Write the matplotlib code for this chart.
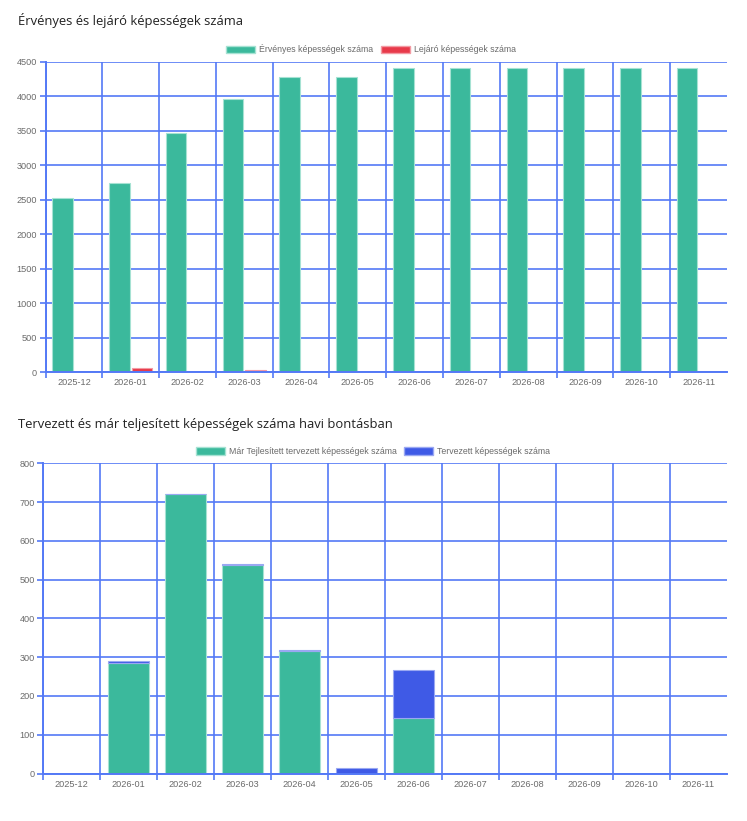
import matplotlib
matplotlib.use('Agg')
import matplotlib.pyplot as plt
from matplotlib.patches import Patch
import numpy as np

# Data
months = ['2025-12', '2026-01', '2026-02', '2026-03', '2026-04', '2026-05',
          '2026-06', '2026-07', '2026-08', '2026-09', '2026-10', '2026-11']
valid = [2530, 2745, 3460, 3960, 4275, 4280, 4415, 4415, 4415, 4405, 4405, 4405]
expiring = [0, 64, 0, 35, 0, 0, 0, 0, 0, 0, 0, 0]
done = [0, 286, 722, 537, 315, 0, 142, 0, 0, 0, 0, 0]
planned = [0, 5, 0, 4, 3, 13, 126, 0, 0, 0, 0, 0]

GREEN = '#3bb99c'
GREEN_EDGE = '#a6e2d3'
RED = '#e83a4a'
RED_EDGE = '#f39aa3'
BLUE = '#3f5ae6'
BLUE_EDGE = '#9aa8f2'
GRID = '#5479f6'
TXT = '#6b6b6b'

W, H = 747, 821
fig = plt.figure(figsize=(W / 100, H / 100), dpi=100)


def px_axes(x0, y0, x1, y1):
    return fig.add_axes([x0 / W, 1 - y1 / H, (x1 - x0) / W, (y1 - y0) / H])


def style(ax, ymax, ystep):
    n = len(months)
    ax.set_xlim(-0.5, n - 0.5)
    ax.set_ylim(0, ymax)
    ax.set_xticks(np.arange(n))
    ax.set_xticklabels(months)
    ax.set_xticks(np.arange(n) - 0.5, minor=True)
    ax.set_yticks(np.arange(0, ymax + 1, ystep))
    ax.tick_params(axis='x', which='major', length=0, pad=4.5,
                   labelsize=6.6, labelcolor=TXT)
    ax.tick_params(axis='x', which='minor', length=4.5, width=1.2, color=GRID)
    ax.tick_params(axis='y', length=4.5, width=1.2, color=GRID, pad=1.5,
                   labelsize=6.6, labelcolor=TXT)
    ax.grid(True, axis='y', which='major', color=GRID, linewidth=1.2)
    ax.grid(True, axis='x', which='minor', color=GRID, linewidth=1.2)
    ax.set_axisbelow(True)
    for s in ['top', 'right']:
        ax.spines[s].set_visible(False)
    for s in ['left', 'bottom']:
        ax.spines[s].set_color(GRID)
        ax.spines[s].set_linewidth(1.4)
    for lab in ax.get_xticklabels() + ax.get_yticklabels():
        lab.set_family(['Liberation Sans', 'DejaVu Sans'])


x = np.arange(len(months))
legend_kw = dict(loc='center', ncol=2, frameon=False,
                 prop={'family': ['Liberation Sans', 'DejaVu Sans'], 'size': 6.3},
                 labelcolor=TXT, handlelength=3.3, handleheight=0.95, handletextpad=0.45,
                 columnspacing=0.9, borderpad=0)

# Chart 1: grouped bars
ax1 = px_axes(45.5, 61.7, 727, 372)
ax1.bar(x - 0.2, valid, width=0.36, color=GREEN, edgecolor=GREEN_EDGE, linewidth=0.8)
ax1.bar(x + 0.2, expiring, width=0.36, color=RED, edgecolor=RED_EDGE, linewidth=0.8)
style(ax1, 4500, 500)

fig.text(18 / W, 1 - 21 / H, 'Érvényes és lejáró képességek száma',
         fontsize=9.4, family=['Open Sans', 'DejaVu Sans'], color='#222222',
         va='center', ha='left')
fig.legend(handles=[Patch(facecolor=GREEN, edgecolor=GREEN_EDGE, label='Érvényes képességek száma'),
                    Patch(facecolor=RED, edgecolor=RED_EDGE, label='Lejáró képességek száma')],
           bbox_to_anchor=(371 / W, 1 - 49.5 / H), **legend_kw)

# Chart 2: stacked bars
ax2 = px_axes(43.3, 463.3, 727, 773.5)
ax2.bar(x, done, width=0.72, color=GREEN, edgecolor=GREEN_EDGE, linewidth=0.8)
ax2.bar(x, planned, width=0.72, bottom=done, color=BLUE, edgecolor=BLUE_EDGE, linewidth=0.8)
style(ax2, 800, 100)

fig.text(18 / W, 1 - 424 / H, 'Tervezett és már teljesített képességek száma havi bontásban',
         fontsize=9.4, family=['Open Sans', 'DejaVu Sans'], color='#222222',
         va='center', ha='left')
fig.legend(handles=[Patch(facecolor=GREEN, edgecolor=GREEN_EDGE, label='Már Tejlesített tervezett képességek száma'),
                    Patch(facecolor=BLUE, edgecolor=BLUE_EDGE, label='Tervezett képességek száma')],
           bbox_to_anchor=(373 / W, 1 - 451.5 / H), **legend_kw)

fig.savefig('out.png', dpi=100, facecolor='white')
plt.close(fig)
